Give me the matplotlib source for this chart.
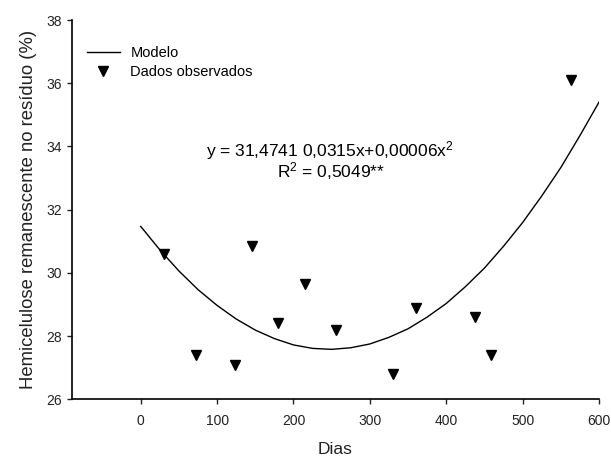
import matplotlib.pyplot as plt

plt.rcParams['font.family'] = 'Liberation Sans'
plt.rcParams['mathtext.fontset'] = 'custom'
plt.rcParams['mathtext.rm'] = 'Liberation Sans'
plt.rcParams['mathtext.default'] = 'regular'

dias_obs = [30, 73, 124, 146, 180, 215, 256, 330, 360, 438, 458, 564]
hemi_obs = [30.6, 27.4, 27.1, 30.85, 28.4, 29.65, 28.2, 26.8, 28.9, 28.6, 27.4, 36.1]

# Model curve, values
dias_mod = [0, 25, 50, 75, 100, 125, 150, 175, 200, 225, 250, 275, 300,
            325, 350, 375, 400, 425, 450, 475, 500, 525, 550, 575, 600]
hemi_mod = [31.47, 30.73, 30.06, 29.47, 28.97, 28.54, 28.19, 27.92, 27.72, 27.61, 27.58, 27.63, 27.75,
            27.96, 28.23, 28.60, 29.03, 29.56, 30.15, 30.84, 31.59, 32.43, 33.33, 34.34, 35.40]

x_ticks = [0, 100, 200, 300, 400, 500, 600]
y_ticks = [26, 28, 30, 32, 34, 36, 38]

fig = plt.figure(figsize=(6.11, 4.57), dpi=100)
ax = fig.add_axes([0.1178, 0.1263, 0.8625, 0.8299])

ax.plot(dias_mod, hemi_mod, color='black', lw=1.0, label='Modelo')
ax.plot(dias_obs, hemi_obs, linestyle='none', marker='v', color='black',
        markersize=6.5, label='Dados observados')

ax.set_xlim(-90, 600)
ax.set_ylim(26, 38)
ax.set_xticks(x_ticks)
ax.set_yticks(y_ticks)
ax.tick_params(direction='out', length=3.6, width=1, labelsize=10, colors='#222222')
ax.tick_params(axis='x', pad=7)
for s in ['top', 'right']:
    ax.spines[s].set_visible(False)
for s in ['left', 'bottom']:
    ax.spines[s].set_linewidth(1.2)

ax.set_xlabel('Dias', fontsize=12.5, color='#222222')
ax.set_ylabel('Hemicelulose remanescente no resíduo (%)', fontsize=13.3, color='#222222')
ax.xaxis.set_label_coords(0.5, -0.113)
ax.yaxis.set_label_coords(-0.066, 0.5)

# Regression equation (minus sign missing in the original)
ax.text(248, 33.68, 'y = 31,4741 0,0315x+0,00006x$^2$', fontsize=12.5, ha='center', va='baseline')
ax.text(249, 33.01, 'R$^2$ = 0,5049**', fontsize=12.5, ha='center', va='baseline')

ax.legend(loc='upper left', bbox_to_anchor=(0.003, 0.965), frameon=False, fontsize=10.5,
          handlelength=2.3, handletextpad=0.7, labelspacing=0.3)

fig.savefig('out.png', dpi=100)
